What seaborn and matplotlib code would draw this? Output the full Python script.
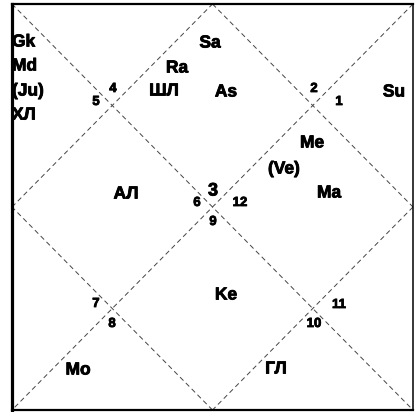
import pandas as pd
import matplotlib
matplotlib.use("Agg")
import matplotlib.pyplot as plt
import matplotlib.patheffects as pe
import seaborn as sns

# chart box in pixel coordinates (left, top, right, bottom)
box = (12, 4, 413, 410)

# house numbers and where they sit
house_nums = ["1", "2", "3", "4", "5", "6", "7", "8", "9", "10", "11", "12"]
house_x = [339, 314, 213, 113, 96, 197, 96, 112, 213, 314, 339, 240]
house_y = [102, 89, 191, 89, 102, 203, 304, 324, 222, 324, 305, 203]

# planets / points and their positions
planets = ["Gk", "Md", "(Ju)", "ХЛ", "Sa", "Ra", "ШЛ", "As", "Su",
           "Me", "(Ve)", "Ma", "АЛ", "Ke", "Mo", "ГЛ"]
planet_x = [12, 12, 12, 12, 210, 177, 164, 226, 394,
            312, 284, 329, 126, 226, 78, 276]
planet_y = [42, 66, 91, 115, 43, 68, 91, 92, 92,
            143, 169, 193, 194, 295, 370, 369]
planet_ha = ["left"] * 4 + ["center"] * 12


def chart_lines(l, t, r, b):
    mx, my = (l + r) / 2, (t + b) / 2
    segs = [
        [(l, t), (r, b)], [(r, t), (l, b)],
        [(mx, t), (r, my)], [(r, my), (mx, b)],
        [(mx, b), (l, my)], [(l, my), (mx, t)],
    ]
    rows = []
    for i, s in enumerate(segs):
        for x, y in s:
            rows.append({"seg": i, "x": x, "y": y})
    return pd.DataFrame(rows)


def ploting():
    sns.set_style("white")
    plt.rcParams["font.family"] = ["Liberation Sans", "DejaVu Sans"]

    W, H = 417, 412
    fig = plt.figure(figsize=(W / 100, H / 100), dpi=100)
    l, t, r, b = box
    ax = fig.add_axes([l / W, 1 - b / H, (r - l) / W, (b - t) / H])

    df = chart_lines(*box)
    sns.lineplot(data=df, x="x", y="y", units="seg", estimator=None,
                 sort=False, color="#444444", linewidth=0.7,
                 dashes=False, ax=ax)
    for line in ax.get_lines():
        line.set_linestyle((0, (5, 3.5)))

    ax.set_xlim(l, r)
    ax.set_ylim(b, t)
    ax.set_xticks([])
    ax.set_yticks([])
    ax.set_xlabel("")
    ax.set_ylabel("")

    for side, lw in {"left": 2.3, "top": 1.6, "right": 1.1, "bottom": 1.6}.items():
        ax.spines[side].set_visible(True)
        ax.spines[side].set_color("black")
        ax.spines[side].set_linewidth(lw)

    heavy = [pe.withStroke(linewidth=0.6, foreground="black")]
    for n, x, y in zip(house_nums, house_x, house_y):
        ax.text(x, y, n, fontsize=13 if n == "3" else 9.5,
                fontweight="bold", ha="center", va="center",
                color="black", path_effects=heavy)

    for p, x, y, ha in zip(planets, planet_x, planet_y, planet_ha):
        ax.text(x, y, p, fontsize=12.5, fontweight="bold", ha=ha,
                va="center", color="black", path_effects=heavy)

    fig.savefig("out.png", dpi=100)
    plt.close(fig)


if __name__ == "__main__":
    ploting()
